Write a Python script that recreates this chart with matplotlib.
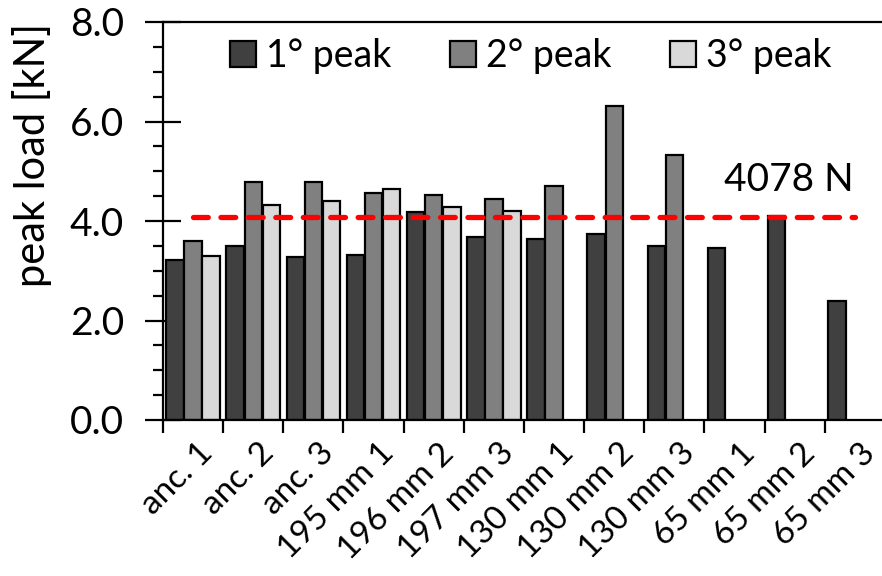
import matplotlib
matplotlib.use("Agg")
import matplotlib.pyplot as plt
import numpy as np

# sample names and peak loads [kN]
categories = ["anc. 1", "anc. 2", "anc. 3", "195 mm 1", "196 mm 2", "197 mm 3",
              "130 mm 1", "130 mm 2", "130 mm 3", "65 mm 1", "65 mm 2", "65 mm 3"]
peak1 = [3.22, 3.49, 3.27, 3.31, 4.19, 3.68, 3.63, 3.73, 3.49, 3.45, 4.11, 2.39]
peak2 = [3.59, 4.78, 4.78, 4.57, 4.53, 4.44, 4.70, 6.31, 5.33, np.nan, np.nan, np.nan]
peak3 = [3.29, 4.32, 4.41, 4.65, 4.28, 4.21, np.nan, np.nan, np.nan, np.nan, np.nan, np.nan]
series_labels = ["1° peak", "2° peak", "3° peak"]
reference_load = 4.078  # kN
reference_label = "4078 N"

plt.rcParams['font.family'] = ['Lato', 'DejaVu Sans']
fs = 28

fig = plt.figure(figsize=(8.82, 5.76), dpi=100)
ax = fig.add_axes([163 / 882, 156 / 576, 722 / 882, 398 / 576])

x = np.arange(len(categories))
w = 0.29
colors = ["#404040", "#808080", "#d9d9d9"]
for k, (vals, c, lab) in enumerate(zip([peak1, peak2, peak3], colors, series_labels)):
    ax.bar(x + (k - 1) * 0.3, vals, width=w, color=c, edgecolor="black",
           linewidth=1.6, label=lab, zorder=2)

ax.plot([x[0], x[-1]], [reference_load, reference_load], color="red", lw=3.8,
        dashes=(2.8, 2.4), dash_capstyle="round", zorder=3)
ax.text(9.9, reference_load + 0.38, reference_label, fontsize=fs,
        ha="center", va="bottom")

ax.set_xlim(-0.5, len(categories) - 0.5)
ax.set_ylim(0, 8)
ax.set_yticks(np.arange(0, 8.1, 2))
ax.set_yticklabels([f"{v:.1f}" for v in np.arange(0, 8.1, 2)], fontsize=fs)
ax.set_yticks(np.arange(0, 8.1, 0.5), minor=True)
ax.tick_params(axis="y", which="major", direction="inout", length=26, width=1.6, pad=15)
ax.tick_params(axis="y", which="minor", direction="out", length=7, width=1.6)

# category ticks sit on the group boundaries, labels under the group centers
ax.set_xticks(np.arange(len(categories) + 1) - 0.5)
ax.set_xticklabels([])
ax.tick_params(axis="x", which="major", direction="out", length=9, width=1.6)
for i, name in enumerate(categories):
    ax.text(i + 0.08, -0.36, name, fontsize=24, rotation=45, ha="right", va="top",
            rotation_mode="anchor")

for side in ["left", "bottom", "top"]:
    ax.spines[side].set_linewidth(1.6)
ax.spines["right"].set_visible(False)

ax.set_ylabel("peak load [kN]", fontsize=30)
ax.yaxis.set_label_coords(-111 / 722, 0.665)

fig.legend(loc="center", bbox_to_anchor=(531 / 882, 1 - 56 / 576), ncol=3,
           frameon=False, fontsize=27, handlelength=0.7, handleheight=0.7,
           handletextpad=0.27, columnspacing=1.55, borderpad=0)

fig.savefig("out.png", dpi=100)
